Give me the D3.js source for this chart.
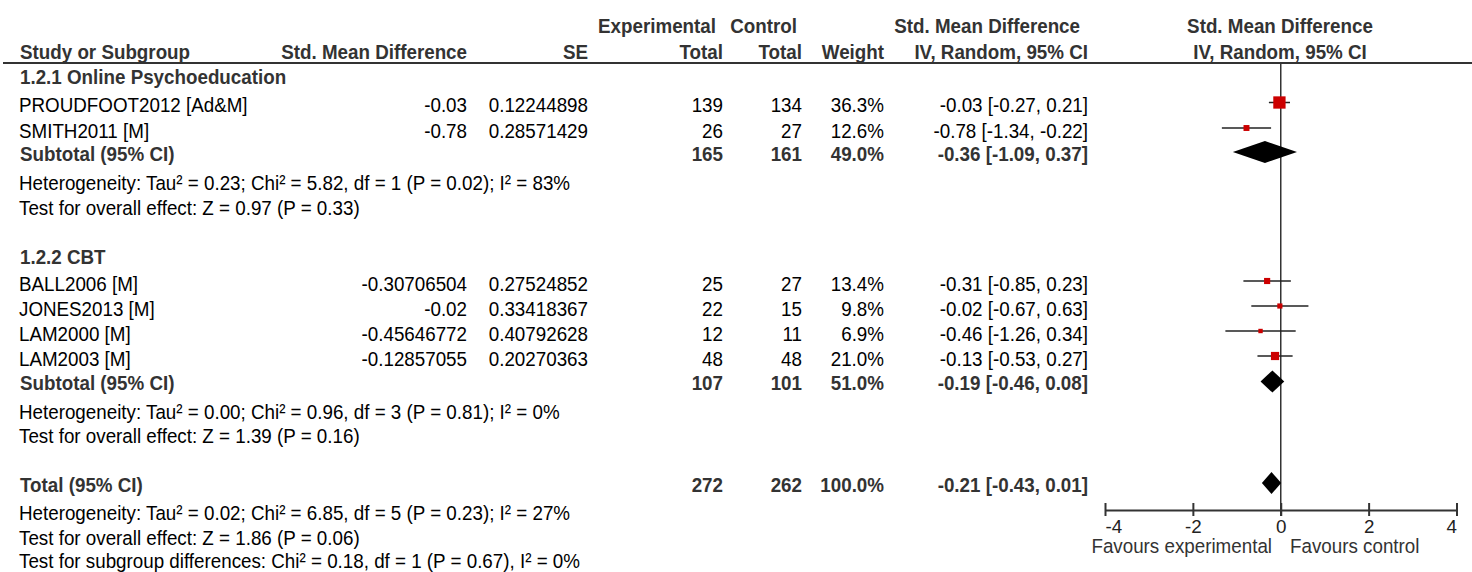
<!DOCTYPE html>
<html>
<head>
<meta charset="utf-8">
<script src="https://cdn.jsdelivr.net/npm/d3@7"></script>
<style>
  html, body { margin: 0; padding: 0; background: #fff; }
  svg { display: block; }
  text { font-family: "Liberation Sans", Arial, sans-serif; font-size: 18.8px; fill: #000; }
  .b { font-weight: bold; fill: #333; }
</style>
</head>
<body>
<script>
// ---- data ----
const studies   = ["PROUDFOOT2012 [Ad&M]", "SMITH2011 [M]", "BALL2006 [M]", "JONES2013 [M]", "LAM2000 [M]", "LAM2003 [M]"];
const studyGroup = [0, 0, 1, 1, 1, 1];
const smdInput  = [-0.03, -0.78, -0.30706504, -0.02, -0.45646772, -0.12857055];
const seInput   = [0.12244898, 0.28571429, 0.27524852, 0.33418367, 0.40792628, 0.20270363];
const expTotal  = [139, 26, 25, 22, 12, 48];
const ctrlTotal = [134, 27, 27, 15, 11, 48];
const weights   = [36.3, 12.6, 13.4, 9.8, 6.9, 21.0];
const est       = [-0.03, -0.78, -0.31, -0.02, -0.46, -0.13];
const ciLow     = [-0.27, -1.34, -0.85, -0.67, -1.26, -0.53];
const ciHigh    = [0.21, -0.22, 0.23, 0.63, 0.34, 0.27];

const groupTitles = ["1.2.1 Online Psychoeducation", "1.2.2 CBT"];
const pooledLabels = ["Subtotal (95% CI)", "Subtotal (95% CI)", "Total (95% CI)"];
const pooledExp    = [165, 107, 272];
const pooledCtrl   = [161, 101, 262];
const pooledWeight = [49.0, 51.0, 100.0];
const pooledEst    = [-0.36, -0.19, -0.21];
const pooledLow    = [-1.09, -0.46, -0.43];
const pooledHigh   = [0.37, 0.08, 0.01];
const pooledNotes = [
  ["Heterogeneity: Tau\u00B2 = 0.23; Chi\u00B2 = 5.82, df = 1 (P = 0.02); I\u00B2 = 83%",
   "Test for overall effect: Z = 0.97 (P = 0.33)"],
  ["Heterogeneity: Tau\u00B2 = 0.00; Chi\u00B2 = 0.96, df = 3 (P = 0.81); I\u00B2 = 0%",
   "Test for overall effect: Z = 1.39 (P = 0.16)"],
  ["Heterogeneity: Tau\u00B2 = 0.02; Chi\u00B2 = 6.85, df = 5 (P = 0.23); I\u00B2 = 27%",
   "Test for overall effect: Z = 1.86 (P = 0.06)",
   "Test for subgroup differences: Chi\u00B2 = 0.18, df = 1 (P = 0.67), I\u00B2 = 0%"]
];
const axisTicks = [-4, -2, 0, 2, 4];
const favours = ["Favours experimental", "Favours control"];

// ---- layout (text baselines) ----
const W = 1472, H = 572;
const studyBase  = [112, 137.5, 290.5, 315.5, 340.5, 365.5];
const groupBase  = [84, 263.5];
const pooledBase = [160.5, 390, 491.5];
const noteBase   = [[190, 214.5], [418.5, 443], [520, 544.5, 568]];

const col = { name: 19, smd: 467, se: 588, exp: 723, ctrl: 802, wt: 884, ci: 1088 };
const SY = 1.08;

const svg = d3.select("body").append("svg").attr("width", W).attr("height", H);

const x = d3.scaleLinear().domain([-4, 4]).range([1105, 1456.5]);
const boxSize = d3.scaleLinear().domain([6.9, 36.3]).range([4.4, 12.3]);
const fmt2 = v => v.toFixed(2);
const ciText = (e, l, h) => `${fmt2(e)} [${fmt2(l)}, ${fmt2(h)}]`;

function txt(xp, yp, s, anchor, cls) {
  const t = svg.append("text")
    .attr("transform", `translate(${xp},${yp}) scale(1,${SY})`)
    .attr("text-anchor", anchor || "start").text(s);
  if (cls) t.attr("class", cls);
  return t;
}

// headers
txt(716, 33, "Experimental", "end", "b");
txt(797, 33, "Control", "end", "b");
txt(1080, 33, "Std. Mean Difference", "end", "b");
txt(1280, 33, "Std. Mean Difference", "middle", "b");
txt(20, 59, "Study or Subgroup", "start", "b");
txt(col.smd, 59, "Std. Mean Difference", "end", "b");
txt(col.se, 59, "SE", "end", "b");
txt(col.exp, 59, "Total", "end", "b");
txt(col.ctrl, 59, "Total", "end", "b");
txt(col.wt, 59, "Weight", "end", "b");
txt(col.ci, 59, "IV, Random, 95% CI", "end", "b");
txt(1280, 59, "IV, Random, 95% CI", "middle", "b");

svg.append("line").attr("x1", 3).attr("x2", W).attr("y1", 63).attr("y2", 63)
  .attr("stroke", "#333").attr("stroke-width", 2);

// vertical no-effect line
svg.append("line").attr("x1", x(0)).attr("x2", x(0)).attr("y1", 63).attr("y2", 516)
  .attr("stroke", "#333").attr("stroke-width", 1.5);

// group titles
groupTitles.forEach((g, i) => txt(20, groupBase[i], g, "start", "b"));

// study rows
studies.forEach((s, i) => {
  const yb = studyBase[i];
  txt(col.name, yb, s);
  txt(col.smd, yb, String(smdInput[i]), "end");
  txt(col.se, yb, String(seInput[i]), "end");
  txt(col.exp, yb, String(expTotal[i]), "end");
  txt(col.ctrl, yb, String(ctrlTotal[i]), "end");
  txt(col.wt, yb, weights[i].toFixed(1) + "%", "end");
  txt(col.ci, yb, ciText(est[i], ciLow[i], ciHigh[i]), "end");
  const cy = yb - 9.5;
  svg.append("line").attr("x1", x(ciLow[i])).attr("x2", x(ciHigh[i])).attr("y1", cy).attr("y2", cy)
    .attr("stroke", "#222").attr("stroke-width", 1.5);
  const sz = boxSize(weights[i]);
  svg.append("rect").attr("x", x(est[i]) - sz / 2).attr("y", cy - sz / 2)
    .attr("width", sz).attr("height", sz).attr("fill", "#cc0000");
});

// pooled rows
pooledLabels.forEach((lab, i) => {
  const yb = pooledBase[i];
  txt(20, yb, lab, "start", "b");
  txt(col.exp, yb, String(pooledExp[i]), "end", "b");
  txt(col.ctrl, yb, String(pooledCtrl[i]), "end", "b");
  txt(col.wt, yb, pooledWeight[i].toFixed(1) + "%", "end", "b");
  txt(col.ci, yb, ciText(pooledEst[i], pooledLow[i], pooledHigh[i]), "end", "b");
  const cy = yb - 8.5, hh = 11;
  const pts = [[x(pooledLow[i]), cy], [x(pooledEst[i]), cy - hh], [x(pooledHigh[i]), cy], [x(pooledEst[i]), cy + hh]];
  svg.append("path").attr("d", "M" + pts.map(p => p.join(",")).join("L") + "Z").attr("fill", "#000");
  pooledNotes[i].forEach((n, j) => txt(col.name, noteBase[i][j], n));
});

// axis
const axisY = 510;
const ax = svg.append("g").attr("transform", `translate(0,${axisY})`)
  .call(d3.axisBottom(x).tickValues(axisTicks).tickFormat(d => String(d)).tickSizeOuter(0).tickSizeInner(6));
ax.attr("font-size", null).attr("font-family", null);
ax.select(".domain").attr("stroke", "#333").attr("stroke-width", 2);
ax.selectAll(".tick line").attr("y1", -7).attr("y2", 6).attr("stroke", "#333").attr("stroke-width", 2);
ax.selectAll(".tick text")
  .attr("dy", null).attr("y", 23)
  .attr("text-anchor", (d, i) => i === 0 ? "start" : (i === axisTicks.length - 1 ? "end" : "middle"))
  .style("fill", "#222");

txt(1272, 553, favours[0], "end").style("fill", "#333");
txt(1290, 553, favours[1], "start").style("fill", "#333");
</script>
</body>
</html>
